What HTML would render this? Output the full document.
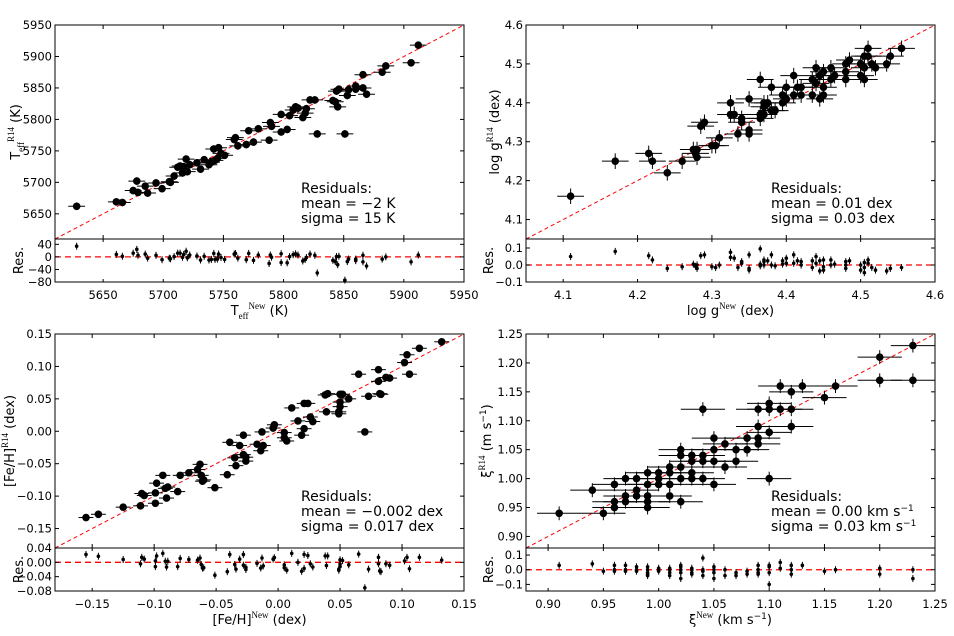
<!DOCTYPE html>
<html><head><meta charset="utf-8"><style>
html,body{margin:0;padding:0;background:#fff;}
svg{display:block;font-family:"DejaVu Sans","Liberation Sans",sans-serif;}
</style></head><body>
<svg id="fig" width="954" height="636" viewBox="0 0 954 636" xmlns="http://www.w3.org/2000/svg"></svg>
<script>
// ---- Panel 1: Teff ----
const teffNew = [5628,5661,5666,5675,5678,5679,5685,5687,5694,5699,5705,5706,5709,5712,5714,5716,5717,5719,5720,5722,5728,5731,5734,5738,5740,5742,5743,5745,5746,5748,5751,5759,5760,5762,5769,5771,5775,5779,5788,5789,5790,5798,5798,5803,5805,5808,5810,5812,5816,5818,5819,5822,5826,5828,5841,5843,5844,5845,5846,5851,5853,5854,5860,5860,5866,5866,5869,5882,5885,5906,5912];
const teffR14 = [5662,5669,5668,5687,5702,5684,5694,5683,5699,5690,5701,5700,5710,5724,5726,5715,5725,5737,5717,5728,5731,5721,5736,5728,5732,5753,5735,5738,5755,5746,5743,5768,5771,5758,5760,5782,5764,5785,5767,5795,5789,5808,5780,5784,5806,5815,5820,5818,5803,5810,5817,5831,5831,5777,5830,5828,5845,5820,5848,5777,5838,5847,5848,5853,5871,5850,5840,5875,5885,5890,5918];
const teffTicks = [5650,5700,5750,5800,5850,5900,5950];
const teffResTicks = [40,0,-40,-80];
// ---- Panel 2: log g ----
const loggNew = [4.11,4.17,4.215,4.22,4.24,4.26,4.275,4.278,4.28,4.28,4.285,4.29,4.30,4.305,4.31,4.325,4.325,4.33,4.335,4.34,4.34,4.35,4.35,4.35,4.365,4.365,4.365,4.37,4.37,4.37,4.375,4.38,4.38,4.385,4.395,4.395,4.40,4.40,4.41,4.41,4.415,4.42,4.42,4.435,4.435,4.44,4.44,4.445,4.445,4.45,4.45,4.45,4.46,4.46,4.465,4.48,4.48,4.48,4.485,4.50,4.50,4.505,4.505,4.505,4.51,4.51,4.515,4.52,4.535,4.54,4.555];
const loggR14 = [4.16,4.25,4.27,4.25,4.22,4.25,4.28,4.27,4.26,4.28,4.34,4.35,4.29,4.29,4.31,4.40,4.37,4.37,4.32,4.36,4.35,4.41,4.33,4.32,4.46,4.37,4.36,4.40,4.37,4.39,4.40,4.44,4.38,4.38,4.42,4.40,4.44,4.41,4.47,4.42,4.44,4.44,4.42,4.46,4.42,4.49,4.45,4.47,4.41,4.48,4.44,4.42,4.49,4.46,4.47,4.50,4.48,4.46,4.51,4.50,4.47,4.52,4.49,4.46,4.54,4.52,4.50,4.49,4.50,4.52,4.54];
const loggXTicks = [4.1,4.2,4.3,4.4,4.5,4.6];
const loggYTicks = [4.1,4.2,4.3,4.4,4.5,4.6];
const loggResTicks = [0.1,0.0,-0.1];
// ---- Panel 3: [Fe/H] ----
const fehNew = [-0.155,-0.145,-0.125,-0.111,-0.110,-0.108,-0.099,-0.099,-0.098,-0.093,-0.091,-0.090,-0.089,-0.081,-0.079,-0.072,-0.065,-0.063,-0.062,-0.061,-0.060,-0.051,-0.041,-0.039,-0.035,-0.034,-0.031,-0.028,-0.028,-0.026,-0.026,-0.017,-0.014,-0.013,-0.012,-0.004,-0.003,0.005,0.005,0.007,0.011,0.016,0.019,0.021,0.021,0.024,0.026,0.028,0.038,0.039,0.040,0.049,0.049,0.050,0.050,0.050,0.052,0.057,0.065,0.070,0.073,0.081,0.081,0.082,0.083,0.087,0.090,0.102,0.104,0.106,0.114,0.132];
const fehR14 = [-0.133,-0.128,-0.117,-0.115,-0.096,-0.099,-0.111,-0.095,-0.080,-0.068,-0.088,-0.103,-0.086,-0.093,-0.068,-0.064,-0.059,-0.051,-0.068,-0.077,-0.075,-0.087,-0.067,-0.017,-0.041,-0.053,-0.022,-0.006,-0.036,-0.040,-0.046,-0.020,-0.030,-0.001,-0.022,0.005,0.010,-0.002,-0.010,-0.015,0.036,0.016,-0.006,0.004,0.043,0.043,0.022,0.015,0.056,0.030,0.058,0.030,0.027,0.038,0.045,0.057,0.057,0.050,0.088,-0.001,0.054,0.077,0.095,0.058,0.057,0.083,0.082,0.106,0.118,0.088,0.128,0.138];
const fehXTicks = [-0.15,-0.10,-0.05,0.00,0.05,0.10,0.15];
const fehYTicks = [-0.15,-0.10,-0.05,0.00,0.05,0.10,0.15];
const fehResTicks = [0.04,0.00,-0.04,-0.08];
// ---- Panel 4: microturbulence ----
const xiNew = [0.91,0.94,0.95,0.96,0.96,0.96,0.97,0.97,0.97,0.98,0.98,0.98,0.99,0.99,0.99,0.99,0.99,1.00,1.00,1.00,1.01,1.01,1.01,1.01,1.02,1.02,1.02,1.02,1.02,1.03,1.03,1.03,1.03,1.04,1.04,1.04,1.04,1.05,1.05,1.05,1.05,1.06,1.06,1.07,1.07,1.08,1.08,1.09,1.09,1.09,1.09,1.10,1.10,1.10,1.10,1.11,1.11,1.12,1.12,1.12,1.13,1.15,1.16,1.20,1.20,1.23,1.23];
const xiR14 = [0.94,0.98,0.94,0.99,0.96,0.95,1.00,0.97,0.96,1.00,0.98,0.97,1.01,0.99,0.97,0.96,0.95,1.01,1.00,0.99,1.02,1.01,0.99,0.97,1.05,1.04,1.02,1.00,0.96,1.04,1.03,1.01,1.00,1.12,1.04,1.03,1.00,1.07,1.05,1.03,0.99,1.06,1.02,1.05,1.03,1.07,1.05,1.12,1.09,1.07,1.06,1.13,1.12,1.08,1.00,1.16,1.12,1.15,1.12,1.09,1.16,1.14,1.16,1.21,1.17,1.23,1.17];
const xiXTicks = [0.90,0.95,1.00,1.05,1.10,1.15,1.20,1.25];
const xiYTicks = [0.90,0.95,1.00,1.05,1.10,1.15,1.20,1.25];
const xiResTicks = [0.1,0.0,-0.1];

const NS = "http://www.w3.org/2000/svg";
const fig = document.getElementById('fig');
function mk(tag, attrs, parent){
  const e = document.createElementNS(NS, tag);
  for (const k in attrs) e.setAttribute(k, attrs[k]);
  (parent||fig).appendChild(e);
  return e;
}
function scale(d0,d1,r0,r1){ return v => r0 + (v-d0)/(d1-d0)*(r1-r0); }

function panel(cfg){
  const g = mk('g', {});
  
  
  const L=cfg.L,R=cfg.R,T=cfg.T,M=cfg.M,B=cfg.B;
  const sx = scale(cfg.xd[0],cfg.xd[1],L,R);
  const sy = scale(cfg.yd[0],cfg.yd[1],M,T);
  const sr = scale(cfg.rd[0],cfg.rd[1],B,M);
  const ln = mk('line',{x1:sx(cfg.xd[0]),y1:sy(cfg.xd[0]),x2:sx(cfg.xd[1]),y2:sy(cfg.xd[1]),stroke:'#ff0000','stroke-width':1,'stroke-dasharray':'4,3'},g);
  
  
  const zl = mk('line',{x1:L,y1:sr(0),x2:R,y2:sr(0),stroke:'#ff0000','stroke-width':1.3,'stroke-dasharray':'6,4'},g);
  
  
  for (let i=0;i<cfg.x.length;i++){
    const x=sx(cfg.x[i]), y=sy(cfg.y[i]);
    const ex = Math.abs(sx(cfg.x[i]+cfg.xe)-x), ey=Math.abs(sy(cfg.y[i]+cfg.ye)-y);
    const pg = mk('g',{},g);
    
    
    mk('line',{x1:x-ex,y1:y,x2:x+ex,y2:y,stroke:'#000','stroke-width':1},pg);
    mk('line',{x1:x,y1:y-ey,x2:x,y2:y+ey,stroke:'#000','stroke-width':1},pg);
    mk('circle',{cx:x,cy:y,r:3.8,fill:'#000'},pg);
    const r = cfg.y[i]-cfg.x[i];
    const ry = sr(r);
    const rg = mk('g',{},g);
    
    
    mk('line',{x1:x,y1:ry-3.5,x2:x,y2:ry+3.5,stroke:'#000','stroke-width':1},rg);
    mk('circle',{cx:x,cy:ry,r:1.8,fill:'#000'},rg);
  }
  const f1 = mk('rect',{x:L,y:T,width:R-L,height:M-T,fill:'none',stroke:'#000','stroke-width':1},g);
  
  
  const f2 = mk('rect',{x:L,y:M,width:R-L,height:B-M,fill:'none',stroke:'#000','stroke-width':1},g);
  
  
  cfg.xt.forEach(v=>{
    const x=sx(v);
    [[T,T+4],[M,M-4],[M,M+3],[B,B-3]].forEach(p=>mk('line',{x1:x,y1:p[0],x2:x,y2:p[1],stroke:'#000','stroke-width':1},g));
    const t = mk('text',{x:x,y:B+17,'font-size':11.5,'text-anchor':'middle',fill:'#000'},g);
    t.textContent = cfg.fmtx(v);
    
    
  });
  cfg.yt.forEach(v=>{
    const y=sy(v);
    mk('line',{x1:L,y1:y,x2:L+4,y2:y,stroke:'#000'},g);
    mk('line',{x1:R,y1:y,x2:R-4,y2:y,stroke:'#000'},g);
    const t = mk('text',{x:L-3,y:y+4,'font-size':11.5,'text-anchor':'end',fill:'#000'},g);
    t.textContent = cfg.fmty(v);
    
    
  });
  cfg.rt.forEach(v=>{
    const y=sr(v);
    mk('line',{x1:L,y1:y,x2:L+4,y2:y,stroke:'#000'},g);
    mk('line',{x1:R,y1:y,x2:R-4,y2:y,stroke:'#000'},g);
    const t = mk('text',{x:L-3,y:y+4,'font-size':11.5,'text-anchor':'end',fill:'#000'},g);
    t.textContent = cfg.fmtr(v);
    
    
  });
  const rl = mk('text',{x:0,y:0,'font-size':13,'text-anchor':'middle',transform:`translate(${cfg.resLabX},${(M+B)/2}) rotate(-90)`},g);
  rl.textContent='Res.';
  
  
  cfg.stats.forEach((s,i)=>{
    const st = mk('text',{x:cfg.txtX,y:cfg.txtY+i*15,'font-size':14,fill:'#000'},g);
    st.innerHTML = s;
    
    
  });
  const xl = mk('text',{x:(L+R)/2,y:B+33,'font-size':13,'text-anchor':'middle'},g);
  xl.innerHTML = cfg.xlab;
  
  
  const yl = mk('text',{x:0,y:0,'font-size':13,'text-anchor':'middle',transform:`translate(${cfg.yLabX},${(T+M)/2}) rotate(-90)`},g);
  yl.innerHTML = cfg.ylab;
  
  
}
const f0 = v=>String(v);
const f1 = v=>v.toFixed(1).replace('-','\u2212');
const f2 = v=>v.toFixed(2).replace('-','\u2212');
const fi = v=>String(v).replace('-','\u2212');
const sup = s=>`<tspan dy="-6" font-size="9" font-family="Liberation Serif,serif">${s}</tspan><tspan dy="6"> </tspan>`;
const teffSym = `T<tspan dy="4" font-size="9" font-family="Liberation Serif,serif">eff</tspan>`;
const inv = `<tspan dy="-5" font-size="9">\u22121</tspan>`;

panel({name:'teff-panel',L:55,R:464,T:25,M:239,B:282,xd:[5610,5950],yd:[5610,5950],rd:[-80,57],
  x:teffNew,y:teffR14,xe:7,ye:6,xt:teffTicks,yt:teffTicks,rt:teffResTicks,
  fmtx:f0,fmty:f0,fmtr:fi,resLabX:23,yLabX:20,txtX:301,txtY:193,
  stats:['Residuals:','mean = \u22122 K','sigma = 15 K'],
  xlab:`${teffSym}<tspan dy="-10" font-size="9" font-family="Liberation Serif,serif">New</tspan><tspan dy="6">  (K)</tspan>`,
  ylab:`${teffSym}<tspan dy="-10" font-size="9" font-family="Liberation Serif,serif">R14</tspan><tspan dy="6">  (K)</tspan>`});

panel({name:'logg-panel',L:526,R:935,T:25,M:239,B:282,xd:[4.05,4.6],yd:[4.05,4.6],rd:[-0.1,0.153],
  x:loggNew,y:loggR14,xe:0.018,ye:0.02,xt:loggXTicks,yt:loggYTicks,rt:loggResTicks,
  fmtx:f1,fmty:f1,fmtr:f1,resLabX:493,yLabX:499,txtX:771,txtY:193,
  stats:['Residuals:','mean = 0.01 dex','sigma = 0.03 dex'],
  xlab:`log g${sup('New')}(dex)`,ylab:`log g${sup('R14')}(dex)`});

panel({name:'feh-panel',L:55,R:464,T:334,M:548,B:591,xd:[-0.18,0.15],yd:[-0.18,0.15],rd:[-0.08,0.04],
  x:fehNew,y:fehR14,xe:0.006,ye:0.005,xt:fehXTicks,yt:fehYTicks,rt:fehResTicks,
  fmtx:f2,fmty:f2,fmtr:f2,resLabX:23,yLabX:14,txtX:301,txtY:501,
  stats:['Residuals:','mean = \u22120.002 dex','sigma = 0.017 dex'],
  xlab:`[Fe/H]${sup('New')}(dex)`,ylab:`[Fe/H]${sup('R14')}(dex)`});

panel({name:'xi-panel',L:526,R:935,T:334,M:548,B:591,xd:[0.88,1.25],yd:[0.88,1.25],rd:[-0.145,0.148],
  x:xiNew,y:xiR14,xe:0.02,ye:0.012,xt:xiXTicks,yt:xiYTicks,rt:xiResTicks,
  fmtx:f2,fmty:f2,fmtr:f1,resLabX:493,yLabX:491,txtX:771,txtY:501,
  stats:['Residuals:','mean = 0.00 km s'+inv,'sigma = 0.03 km s'+inv],
  xlab:`\u03be${sup('New')}(km s${inv}<tspan dy="5">)</tspan>`,
  ylab:`\u03be${sup('R14')}(m s${inv}<tspan dy="5">)</tspan>`});
</script>
</body></html>
